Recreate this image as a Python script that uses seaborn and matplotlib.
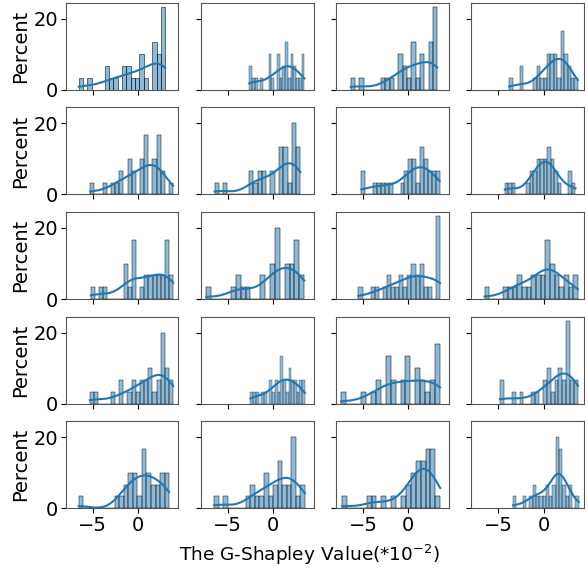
import numpy as np
import matplotlib
matplotlib.use("Agg")
import matplotlib.pyplot as plt
import seaborn as sns

N_BINS = 20

# Each panel: (data min, data max) and counts in 20 equal bins (30 samples per panel)
ranges = [
    [(-6.52, 3.01), (-2.61, 3.45), (-6.34, 3.19), (-3.78, 3.78)],
    [(-5.25, 3.88), (-6.45, 3.01), (-5.17, 3.45), (-4.27, 3.52)],
    [(-5.20, 3.90), (-7.36, 3.44), (-5.50, 3.50), (-6.50, 3.80)],
    [(-5.30, 3.90), (-2.50, 3.50), (-7.40, 3.50), (-4.80, 3.80)],
    [(-6.52, 3.44), (-6.50, 3.50), (-7.30, 3.52), (-3.37, 3.88)],
]

counts = [
    [
        [1, 0, 1, 0, 0, 0, 2, 1, 1, 0, 2, 2, 1, 1, 3, 1, 0, 4, 3, 7],
        [2, 1, 1, 0, 1, 0, 0, 3, 1, 0, 3, 1, 2, 4, 1, 3, 2, 1, 1, 3],
        [1, 0, 1, 0, 0, 0, 0, 1, 1, 1, 0, 3, 2, 1, 4, 1, 3, 0, 4, 7],
        [1, 0, 0, 2, 0, 0, 0, 1, 2, 1, 1, 3, 3, 3, 1, 5, 3, 2, 1, 1],
    ],
    [
        [1, 0, 0, 1, 0, 1, 1, 2, 0, 3, 2, 0, 3, 5, 0, 3, 5, 2, 0, 1],
        [1, 0, 1, 0, 0, 0, 0, 0, 2, 1, 2, 2, 0, 2, 0, 4, 4, 1, 6, 4],
        [2, 0, 0, 1, 1, 1, 1, 1, 0, 0, 1, 2, 3, 3, 1, 4, 3, 2, 2, 2],
        [1, 1, 1, 0, 0, 0, 1, 2, 2, 3, 3, 3, 4, 3, 2, 1, 0, 0, 2, 1],
    ],
    [
        [1, 0, 1, 1, 0, 0, 0, 0, 3, 1, 5, 0, 1, 2, 2, 2, 2, 2, 5, 2],
        [1, 0, 0, 0, 0, 1, 2, 1, 1, 0, 0, 2, 0, 3, 6, 0, 3, 3, 5, 2],
        [1, 0, 0, 1, 1, 0, 1, 2, 1, 1, 2, 1, 2, 3, 2, 3, 1, 1, 0, 7],
        [1, 0, 0, 0, 1, 1, 1, 2, 1, 1, 2, 2, 2, 5, 3, 2, 1, 2, 1, 2],
    ],
    [
        [1, 1, 0, 0, 0, 1, 0, 2, 0, 1, 2, 1, 2, 2, 3, 1, 2, 6, 3, 2],
        [1, 1, 1, 0, 1, 1, 0, 2, 1, 2, 1, 4, 2, 1, 3, 2, 2, 1, 2, 2],
        [1, 0, 0, 0, 1, 0, 1, 2, 0, 4, 2, 0, 2, 4, 0, 3, 2, 1, 2, 5],
        [2, 0, 0, 1, 0, 1, 0, 0, 1, 1, 0, 2, 3, 1, 2, 3, 2, 7, 2, 2],
    ],
    [
        [1, 0, 0, 0, 0, 0, 0, 0, 1, 1, 2, 3, 3, 1, 5, 3, 2, 2, 3, 3],
        [1, 0, 1, 0, 0, 0, 0, 1, 2, 1, 1, 3, 1, 2, 4, 2, 2, 6, 1, 2],
        [1, 0, 0, 0, 0, 1, 1, 0, 1, 0, 1, 0, 1, 2, 3, 4, 4, 5, 5, 1],
        [1, 0, 0, 1, 0, 1, 2, 1, 1, 1, 2, 1, 2, 6, 5, 2, 1, 2, 0, 1],
    ],
]

x_label = "The G-Shapley Value(*$10^{-2}$)"
y_label = "Percent"
x_ticks = [-5, 0]
y_ticks = [0, 20]

plt.rcParams["font.family"] = ["DejaVu Sans"]
plt.rcParams["font.size"] = 14

fig, axes = plt.subplots(5, 4, sharex=True, sharey=True, figsize=(5.88, 5.73), dpi=100)
fig.subplots_adjust(left=0.1117, right=0.9932, bottom=0.1129, top=0.9953,
                    wspace=0.2, hspace=0.2)

for r in range(5):
    for c in range(4):
        ax = axes[r, c]
        lo, hi = ranges[r][c]
        cnt = np.array(counts[r][c])
        edges = np.linspace(lo, hi, N_BINS + 1)
        centers = (edges[:-1] + edges[1:]) / 2
        vals = np.repeat(centers, cnt)
        vals[0] = lo
        vals[-1] = hi
        sns.histplot(x=vals, bins=N_BINS, binrange=(lo, hi), stat="percent",
                     kde=True, ax=ax, color="C0")
        ax.set_ylabel(y_label if c == 0 else "", fontsize=14, labelpad=2.5)
        ax.set_xlabel("")
        ax.tick_params(labelsize=14, pad=2)
        for s in ax.spines.values():
            s.set_color("#555555")

axes[0, 0].set_xticks(x_ticks)
axes[0, 0].set_yticks(y_ticks)

fig.text(0.5255, 0.031, x_label, ha="center", va="center", fontsize=13.3)

fig.savefig("out.png", dpi=100)
